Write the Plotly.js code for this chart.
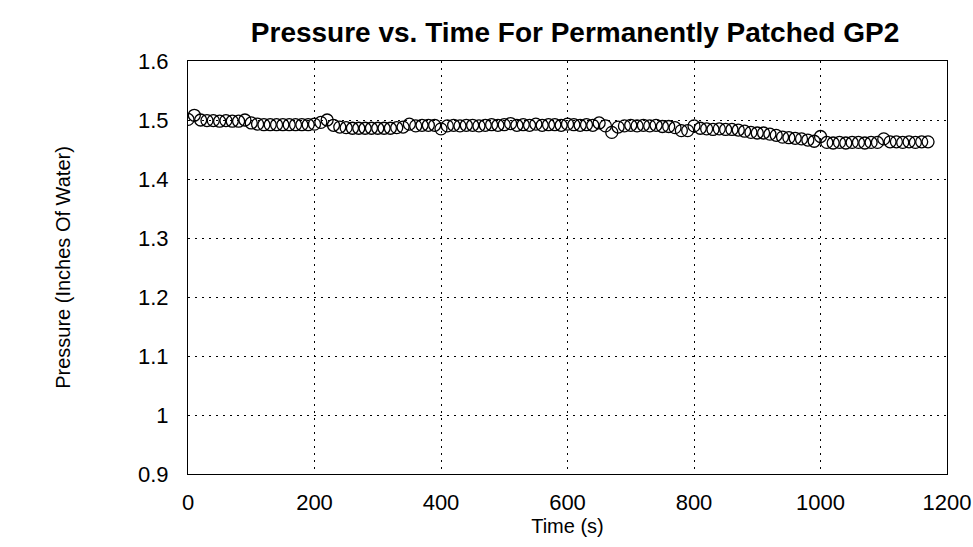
<!DOCTYPE html>
<html>
<head>
<meta charset="utf-8">
<script src="https://cdn.plot.ly/plotly-3.0.1.min.js"></script>
<style>html,body{margin:0;padding:0;background:#fff;}#chart{width:973px;height:547px;}</style>
</head>
<body>
<div id="chart"></div>
<script>
const timeS = [0,10,20,30,40,50,60,70,80,90,100,110,120,130,140,150,160,170,180,190,
200,210,220,230,240,250,260,270,280,290,300,310,320,330,340,350,360,370,380,390,
400,410,420,430,440,450,460,470,480,490,500,510,520,530,540,550,560,570,580,590,
600,610,620,630,640,650,660,670,680,690,700,710,720,730,740,750,760,770,780,790,
800,810,820,830,840,850,860,870,880,890,900,910,920,930,940,950,960,970,980,990,
1000,1010,1020,1030,1040,1050,1060,1070,1080,1090,1100,1110,1120,1130,1140,1150,1160,1170];
const pressure = [1.501,1.508,1.500,1.499,1.499,1.498,1.499,1.498,1.498,1.500,1.495,1.493,1.492,1.492,1.492,1.492,1.492,1.492,1.492,1.492,
1.493,1.496,1.500,1.491,1.488,1.487,1.486,1.486,1.486,1.486,1.486,1.486,1.486,1.487,1.488,1.493,1.490,1.491,1.491,1.491,
1.485,1.490,1.491,1.490,1.491,1.491,1.490,1.491,1.492,1.491,1.492,1.494,1.491,1.492,1.491,1.493,1.491,1.492,1.492,1.491,
1.493,1.492,1.491,1.492,1.491,1.495,1.490,1.479,1.488,1.490,1.491,1.490,1.491,1.490,1.491,1.489,1.489,1.487,1.482,1.482,
1.490,1.486,1.485,1.484,1.485,1.484,1.484,1.483,1.481,1.479,1.478,1.478,1.476,1.474,1.471,1.470,1.469,1.468,1.466,1.464,
1.472,1.462,1.461,1.462,1.461,1.462,1.462,1.461,1.462,1.462,1.468,1.463,1.463,1.462,1.463,1.462,1.463,1.463];
const xTicks = [0,200,400,600,800,1000,1200];
const yTicks = [0.9,1,1.1,1.2,1.3,1.4,1.5,1.6];
const yTickText = ['0.9','1','1.1','1.2','1.3','1.4','1.5','1.6'];

const font = 'Liberation Sans, Arial, Helvetica, sans-serif';
const data = [{
  x: timeS, y: pressure, type: 'scatter', mode: 'markers',
  marker: {symbol: 'circle-open', size: 12, color: '#000', line: {width: 1.3, color: '#000'}},
  showlegend: false
}];
const layout = {
  width: 973, height: 547,
  margin: {l: 188, r: 26, t: 61, b: 73},
  paper_bgcolor: '#fff', plot_bgcolor: '#fff',
  font: {family: font, color: '#000', size: 18},
  title: {text: '<b>Pressure vs. Time For Permanently Patched GP2</b>', font: {family: font, size: 28, color: '#000'},
    xref: 'container', x: 0.591, xanchor: 'center', yref: 'container', y: 0.941, yanchor: 'middle'},
  xaxis: {
    range: [0, 1200], tickvals: xTicks, ticktext: xTicks.map(String),
    showline: true, mirror: true, linecolor: '#000', linewidth: 1,
    showgrid: true, gridcolor: '#000', gridwidth: 1, griddash: '2px,5px',
    ticks: 'outside', ticklen: 9, tickcolor: 'rgba(0,0,0,0)', zeroline: false,
    tickfont: {size: 22},
    title: {text: 'Time (s)', font: {size: 20}, standoff: 0}
  },
  yaxis: {
    range: [0.9, 1.6], tickvals: yTicks, ticktext: yTickText,
    showline: true, mirror: true, linecolor: '#000', linewidth: 1,
    showgrid: true, gridcolor: '#000', gridwidth: 1, griddash: '2px,5px',
    ticks: 'outside', ticklen: 14, tickcolor: 'rgba(0,0,0,0)', zeroline: false,
    tickfont: {size: 22},
    title: {text: 'Pressure (Inches Of Water)', font: {size: 20}, standoff: 62}
  }
};
Plotly.newPlot('chart', data, layout, {displayModeBar: false, staticPlot: true});
</script>
</body>
</html>
